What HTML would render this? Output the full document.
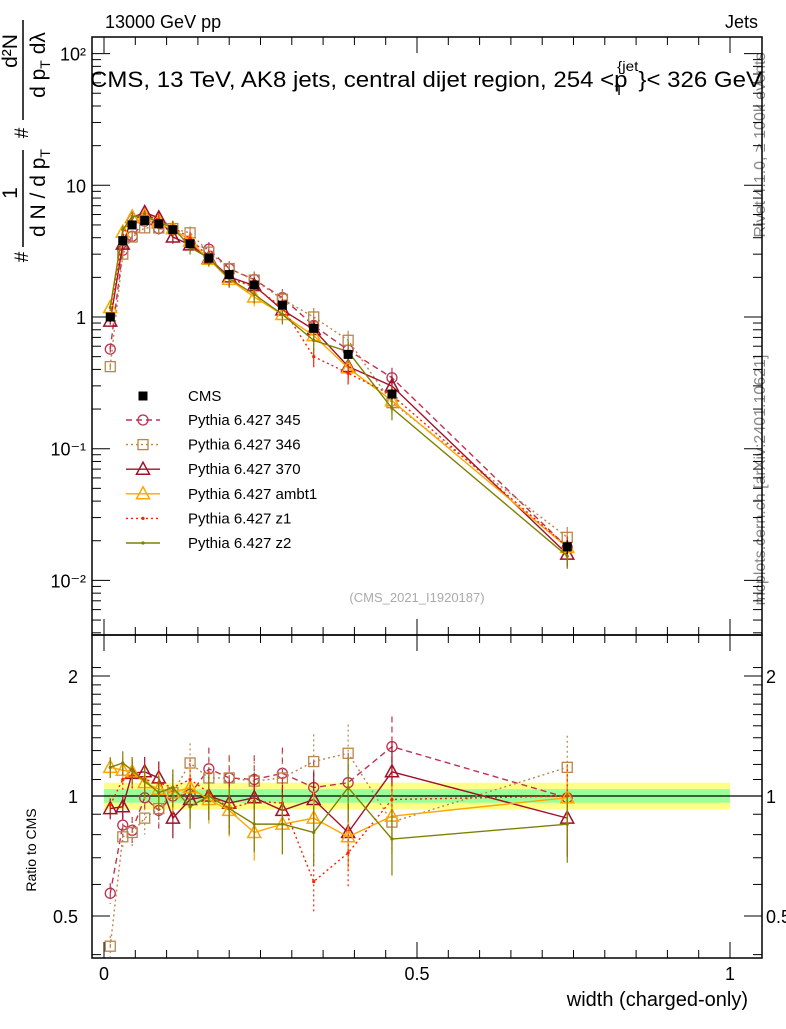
<!DOCTYPE html>
<html><head><meta charset="utf-8"><style>
body{margin:0;background:#fff;width:786px;height:1024px;overflow:hidden;font-family:"Liberation Sans",sans-serif}
svg text{font-family:"Liberation Sans","DejaVu Sans",sans-serif}
</style></head><body>
<svg id="chart" width="786" height="1024" xmlns="http://www.w3.org/2000/svg">
<text x="105" y="28" font-size="18">13000 GeV pp</text>
<text x="758" y="28" font-size="18" text-anchor="end">Jets</text>
<text x="417" y="602" font-size="13" fill="#aaa" text-anchor="middle">(CMS_2021_I1920187)</text>
<text transform="translate(765,145) rotate(-90)" font-size="16" fill="#888" text-anchor="middle">Rivet 4.1.0, ≥ 100k events</text>
<text transform="translate(765,480) rotate(-90)" font-size="16" fill="#888" text-anchor="middle">mcplots.cern.ch [arXiv:2401.10621]</text>
<text transform="translate(36,850) rotate(-90)" font-size="14" text-anchor="middle">Ratio to CMS</text>
<g transform="rotate(-90)" font-size="21">
<text x="-193" y="17" text-anchor="middle">1</text>
<line x1="-247" y1="23" x2="-150" y2="23" stroke="#000" stroke-width="1.5"/>
<text x="-193" y="45" text-anchor="middle">d N / d p<tspan font-size="14" dy="5">T</tspan></text>
<text x="-257" y="28" text-anchor="middle" font-size="19">#</text>
<text x="-133" y="28" text-anchor="middle" font-size="19">#</text>
<text x="-51" y="17" text-anchor="middle">d²N</text>
<line x1="-120" y1="23" x2="-20" y2="23" stroke="#000" stroke-width="1.5"/>
<text x="-65" y="45" text-anchor="middle">d p<tspan font-size="14" dy="5">T</tspan><tspan dy="-5"> d</tspan>λ</text>
</g>
<text x="90" y="87" font-size="22" textLength="672" lengthAdjust="spacingAndGlyphs">CMS, 13 TeV, AK8 jets, central dijet region, 254 &lt;p<tspan font-size="14" dx="-12" dy="8">T</tspan><tspan font-size="14" dx="-6" dy="-24">{jet</tspan><tspan dy="16">}&lt; 326 GeV</tspan></text>
<text x="748" y="1006" font-size="20" text-anchor="end">width (charged-only)</text>
<g id="plot"></g>
</svg>
<script>
const xs=[0.01,0.03,0.045,0.065,0.0875,0.11,0.1375,0.1675,0.2,0.24,0.285,0.335,0.39,0.46,0.74];
const cms=[1.0,3.8,5.0,5.4,5.1,4.6,3.6,2.8,2.1,1.75,1.23,0.82,0.52,0.26,0.018];
const cmsErr=[0.08,0.06,0.05,0.05,0.05,0.05,0.05,0.05,0.05,0.06,0.06,0.07,0.08,0.09,0.12];
const r345=[0.57,0.845,0.82,0.99,0.92,1.0,1.01,1.17,1.11,1.10,1.14,1.05,1.08,1.33,0.99];
const r346=[0.42,0.79,0.81,0.88,0.93,1.02,1.21,1.11,1.11,1.09,1.11,1.22,1.28,0.86,1.18];
const r370=[0.93,0.94,1.14,1.15,1.11,0.88,0.98,1.0,0.96,0.99,0.92,0.98,0.81,1.15,0.88];
const rambt1=[1.18,1.16,1.15,1.08,1.04,1.02,1.05,0.98,0.92,0.81,0.85,0.88,0.79,0.89,0.99];
const rz1=[0.95,1.1,1.13,1.1,1.08,1.05,1.1,1.02,0.93,0.97,0.96,0.61,0.72,0.98,1.0];
const rz2=[1.18,1.21,1.16,1.09,1.02,1.05,0.94,1.0,0.93,0.85,0.85,0.81,1.05,0.78,0.85];
const xTicks=[0,0.5,1];
const xTickLabels=["0","0.5","1"];
const yDecades=[-2,-1,0,1,2];
const yTickLabels=["10⁻²","10⁻¹","1","10","10²"];
const rTicks=[0.5,1,2];
const rTickLabels=["0.5","1","2"];
const series=[
 {name:"Pythia 6.427 345",r:r345,c:"#c03050",dash:"6,4",m:"circle"},
 {name:"Pythia 6.427 346",r:r346,c:"#b8864b",dash:"2,3",m:"square"},
 {name:"Pythia 6.427 370",r:r370,c:"#a0102a",dash:"",m:"tri"},
 {name:"Pythia 6.427 ambt1",r:rambt1,c:"#ffa500",dash:"",m:"tri"},
 {name:"Pythia 6.427 z1",r:rz1,c:"#ff2000",dash:"2,3",m:"dot"},
 {name:"Pythia 6.427 z2",r:rz2,c:"#808000",dash:"",m:"dot"}];
const L=92,R=762,T=37,M=635,B=958;
const X=v=>104+626*v;
const Y=v=>317-131.7*Math.log10(v);
const RY=v=>796-120*Math.log2(v);
const NS="http://www.w3.org/2000/svg";
const g=document.getElementById('plot');
function el(t,a,p){const e=document.createElementNS(NS,t);for(const k in a)e.setAttribute(k,a[k]);(p||g).appendChild(e);return e;}
const band=el('g',{});


el('rect',{x:X(0),y:RY(1.08),width:X(1)-X(0),height:RY(0.925)-RY(1.08),fill:'#ffff88'},band);
el('rect',{x:X(0),y:RY(1.04),width:X(1)-X(0),height:RY(0.962)-RY(1.04),fill:'#99ff99'},band);
el('line',{x1:L,x2:R,y1:RY(1),y2:RY(1),stroke:'#000','stroke-width':1.3},band);
function marker(par,m,x,y,c,s){
 if(m==="circle")el('circle',{cx:x,cy:y,r:5,fill:'none',stroke:c,'stroke-width':1.3},par);
 else if(m==="square")el('rect',{x:x-5,y:y-5,width:10,height:10,fill:'none',stroke:c,'stroke-width':1.3},par);
 else if(m==="tri")el('polygon',{points:`${x},${y-7} ${x-6.5},${y+5} ${x+6.5},${y+5}`,fill:'none',stroke:c,'stroke-width':1.5},par);
 else el('circle',{cx:x,cy:y,r:s||1.6,fill:c},par);
}
series.forEach((s,si)=>{
 const sg=el('g',{});
 
 
 const mv=xs.map((x,i)=>cms[i]*s.r[i]);
 const pts=xs.map((x,i)=>X(x)+','+Y(mv[i])).join(' ');
 el('polyline',{points:pts,fill:'none',stroke:s.c,'stroke-width':1.4,'stroke-dasharray':s.dash},sg);
 const rp=xs.map((x,i)=>X(x)+','+RY(s.r[i])).join(' ');
 el('polyline',{points:rp,fill:'none',stroke:s.c,'stroke-width':1.4,'stroke-dasharray':s.dash},sg);
 xs.forEach((x,i)=>{
  const e=0.06+0.01*i;
  el('line',{x1:X(x),x2:X(x),y1:RY(s.r[i]*(1+e)),y2:RY(s.r[i]*(1-e)),stroke:s.c,'stroke-width':1.2,'stroke-dasharray':s.dash},sg);
  el('line',{x1:X(x),x2:X(x),y1:Y(mv[i]*(1+e)),y2:Y(mv[i]*(1-e)),stroke:s.c,'stroke-width':1.2},sg);
  marker(sg,s.m,X(x),Y(mv[i]),s.c);
  marker(sg,s.m,X(x),RY(s.r[i]),s.c);
 });
 const ly=420+si*24.6;
 const lg=el('g',{});
 
 
 el('line',{x1:126,x2:160,y1:ly,y2:ly,stroke:s.c,'stroke-width':1.4,'stroke-dasharray':s.dash},lg);
 marker(lg,s.m,143,ly,s.c);
 const t=el('text',{x:188,y:ly+5,'font-size':15},lg);t.textContent=s.name;
});
const dg=el('g',{});


xs.forEach((x,i)=>{
 el('line',{x1:X(x),x2:X(x),y1:Y(cms[i]*(1+cmsErr[i])),y2:Y(cms[i]*(1-cmsErr[i])),stroke:'#000','stroke-width':1.2},dg);
 el('rect',{x:X(x)-4.5,y:Y(cms[i])-4.5,width:9,height:9,fill:'#000'},dg);
});
const lc=el('g',{});


el('rect',{x:138.5,y:391.5,width:9,height:9,fill:'#000'},lc);
const ct=el('text',{x:188,y:401,'font-size':15},lc);ct.textContent="CMS";
const fr=el('g',{fill:'none',stroke:'#000','stroke-width':1.5});


el('rect',{x:L,y:T,width:R-L,height:M-T},fr);
el('rect',{x:L,y:M,width:R-L,height:B-M},fr);
const tk=el('g',{stroke:'#000','stroke-width':1});


for(let v=0;v<=1.0001;v+=0.05){
 const big=Math.abs(v*10-Math.round(v*10))<1e-6 && Math.round(v*10)%5===0;
 const len=big?16:8;
 [[T,1],[M,-1],[M,1],[B,-1]].forEach(([y,d])=>el('line',{x1:X(v),x2:X(v),y1:y,y2:y+d*len},tk));
}
xTicks.forEach((v,i)=>{const t=el('text',{x:X(v),y:980,'font-size':18,'text-anchor':'middle'});t.textContent=xTickLabels[i];});
yDecades.forEach((d,i)=>{
 const yy=Y(Math.pow(10,d));
 el('line',{x1:L,x2:L+18,y1:yy,y2:yy},tk);el('line',{x1:R,x2:R-18,y1:yy,y2:yy},tk);
 const t=el('text',{x:L-6,y:yy+7,'font-size':18,'text-anchor':'end'});t.textContent=yTickLabels[i];
 for(let k=2;k<10;k++){const v=k*Math.pow(10,d);const y2=Y(v);if(y2<T||y2>M)continue;
  el('line',{x1:L,x2:L+9,y1:y2,y2:y2},tk);el('line',{x1:R,x2:R-9,y1:y2,y2:y2},tk);}
});
[-3].forEach(d=>{for(let k=2;k<10;k++){const y2=Y(k*Math.pow(10,d));if(y2<T||y2>M)continue;el('line',{x1:L,x2:L+9,y1:y2,y2:y2},tk);el('line',{x1:R,x2:R-9,y1:y2,y2:y2},tk);}});
rTicks.forEach((v,i)=>{
 const yy=RY(v);
 el('line',{x1:L,x2:L+18,y1:yy,y2:yy},tk);el('line',{x1:R,x2:R-18,y1:yy,y2:yy},tk);
 const t=el('text',{x:L-14,y:yy+7,'font-size':18,'text-anchor':'end'});t.textContent=rTickLabels[i];
 const t2=el('text',{x:R+4,y:yy+7,'font-size':18});t2.textContent=rTickLabels[i];
});
[0.4,0.6,0.7,0.8,0.9,1.1,1.2,1.3,1.4,1.5,1.6,1.7,1.8,1.9,2.1].forEach(v=>{const yy=RY(v);if(yy<M||yy>B)return;
 el('line',{x1:L,x2:L+9,y1:yy,y2:yy},tk);el('line',{x1:R,x2:R-9,y1:yy,y2:yy},tk);});
</script>
</body></html>
